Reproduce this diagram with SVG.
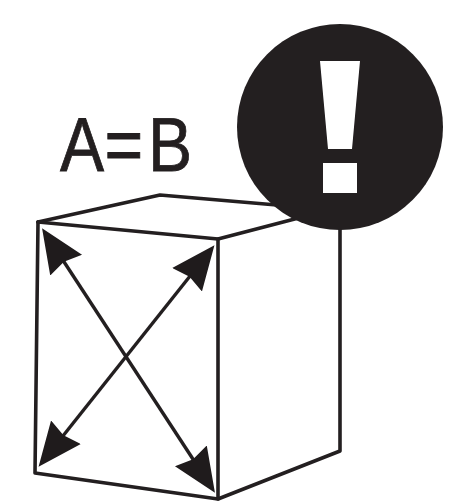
<svg xmlns="http://www.w3.org/2000/svg" width="463" height="502" viewBox="0 0 463 502">
<style>
.edge{fill:none;stroke:#231f20;stroke-width:3.6;stroke-linejoin:round;stroke-linecap:round}
.diag{fill:none;stroke:#231f20;stroke-width:3.4;marker-start:url(#head);marker-end:url(#head)}
</style>
<defs>
<marker id="head" markerUnits="userSpaceOnUse" markerWidth="46" markerHeight="44" refX="24" refY="22" orient="auto-start-reverse">
<path d="M0 3L44 22L0 41L4 22Z" fill="#1f1b1c"/>
</marker>
</defs>
<rect width="463" height="502" fill="#fff"/>
<g id="cube">
<path class="edge" d="M38 222L160 195L300 207"/>
<path class="edge" d="M38 222L218 239L310 215"/>
<path class="edge" d="M38 222L35 473L218 499L340 451L340 220"/>
<path class="edge" d="M218 239L218 499"/>
</g>
<g id="connectors">
<line class="diag" x1="53" y1="245" x2="204" y2="476"/>
<line class="diag" x1="202" y1="261" x2="51" y2="451"/>
</g>
<g id="label">
<text transform="scale(.87 1)" y="171" font-family="'Liberation Sans',Arial,sans-serif" font-size="76" fill="#231f20" stroke="#231f20" stroke-width=".8"><tspan x="69">A</tspan><tspan x="120">=</tspan><tspan x="170">B</tspan></text>
</g>
<g id="warning">
<circle cx="340" cy="127" r="103" fill="#231f20"/>
<path d="M320 61H360L352 149H328Z" fill="#fff"/>
<rect x="323" y="163" width="34" height="30" fill="#fff"/>
</g>
</svg>
